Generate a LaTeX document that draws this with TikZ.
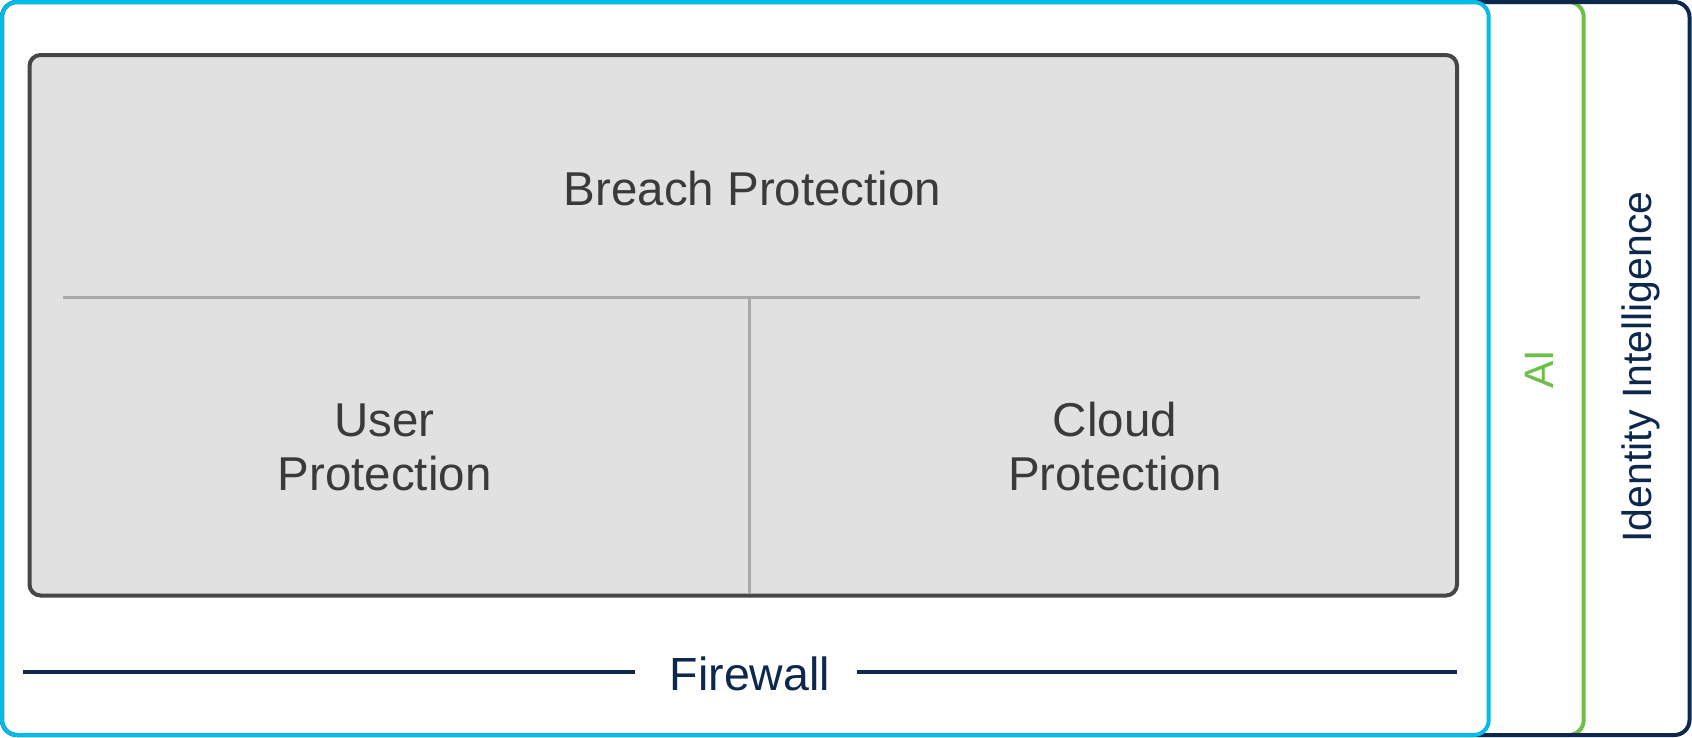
\documentclass[tikz,border=0pt]{standalone}
\usepackage{fontspec}
\setmainfont{Liberation Sans}
\definecolor{ciscoblue}{HTML}{00BCEB}
\definecolor{aigreen}{HTML}{6CC04A}
\definecolor{navy}{HTML}{0D274D}
\definecolor{panelgray}{HTML}{E1E1E1}
\definecolor{panelborder}{HTML}{464646}
\definecolor{divider}{HTML}{A9A9A9}
\definecolor{textgray}{HTML}{3A3A3A}
\begin{document}
\begin{tikzpicture}[x=1pt,y=-1pt,
  outerbox/.style={line width=4pt, rounded corners=15pt},
  panel/.style={line width=4pt, rounded corners=11pt, draw=panelborder, fill=panelgray},
  divline/.style={line width=3pt, draw=divider},
  fwline/.style={line width=4pt, draw=navy},
  bigtext/.style={font=\fontsize{47.5}{54}\selectfont, text=textgray, inner sep=0pt, anchor=base},
  fwtext/.style={font=\fontsize{46.5}{54}\selectfont, text=navy, inner sep=0pt, anchor=base},
  sidetext/.style={font=\fontsize{41}{48}\selectfont, inner sep=0pt, anchor=base, rotate=90}]
\useasboundingbox (0,0) rectangle (1692,737);
% layered outer frames
\draw[outerbox, draw=aigreen] (2,2) rectangle (1583.7,735);
\draw[outerbox, draw=navy] (2,2) rectangle (1689.5,735);
\draw[outerbox, draw=ciscoblue] (2,2) rectangle (1488.7,735);
% central panel
\draw[panel] (29.5,55) rectangle (1457,595.5);
\draw[divline] (63,297.5) -- (1420,297.5);
\draw[divline] (749.5,297.5) -- (749.5,593.5);
% texts
\node[bigtext] (breach) at (752.5,205) {Breach Protection};
\node[bigtext] (user1) at (384.5,436) {User};
\node[bigtext] (user2) at (384.5,490) {Protection};
\node[bigtext] (cloud1) at (1115,436) {Cloud};
\node[bigtext] (cloud2) at (1115,490) {Protection};
% firewall
\node[fwtext] (fw) at (750,690) {Firewall};
\draw[fwline] (23,671.5) -- (635,671.5);
\draw[fwline] (857,671.5) -- (1457,671.5);
% side labels
\node[sidetext, text=aigreen] (ai) at (1553,369) {AI};
\node[sidetext, text=navy] (idi) at (1651.5,367) {Identity Intelligence};
\end{tikzpicture}
\end{document}
